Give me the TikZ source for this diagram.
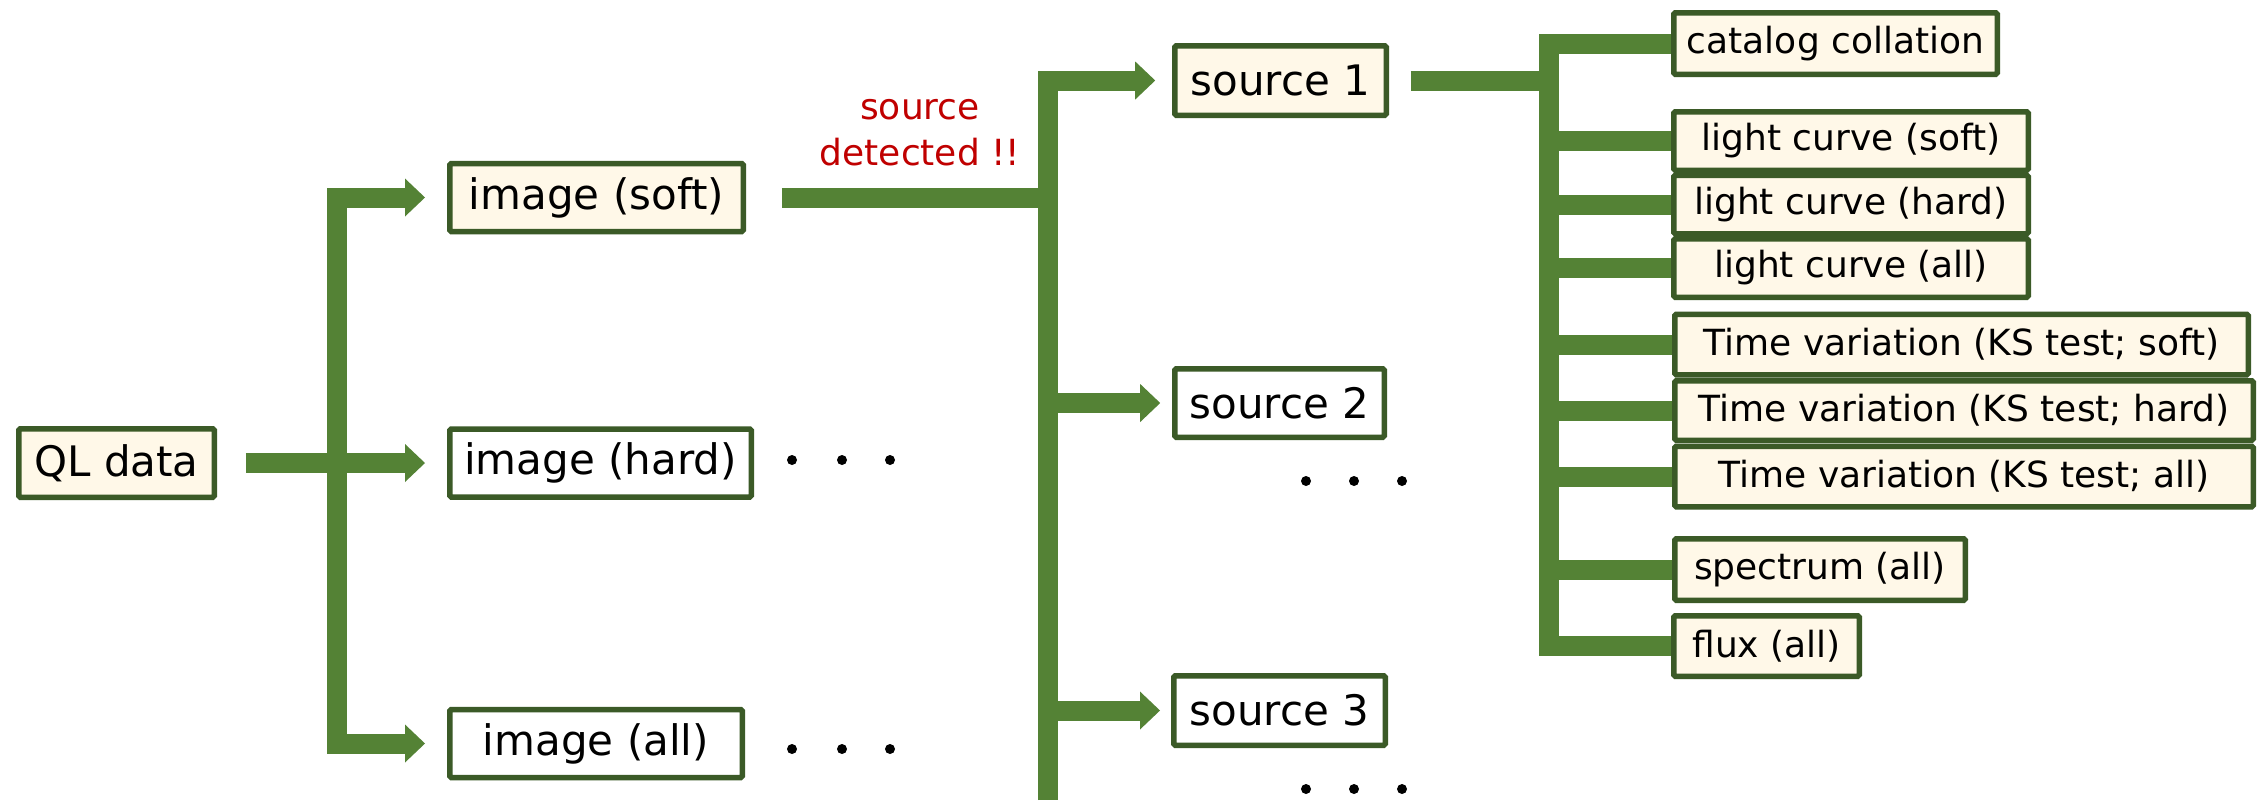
\documentclass[tikz,border=0pt]{standalone}
\usepackage{fontspec}
\setmainfont{DejaVu Sans}
\usetikzlibrary{arrows.meta,backgrounds}
\definecolor{bargreen}{HTML}{548235}
\definecolor{edgegreen}{HTML}{3B5A27}
\definecolor{cream}{HTML}{FFF8E8}
\definecolor{alertred}{HTML}{C00000}
\begin{document}
\begin{tikzpicture}[x=0.5pt,y=-0.5pt,
  >={Triangle[length=10pt,width=19pt,line width=0pt]},
  framebox/.style={draw=edgegreen, line width=2.75pt, inner sep=0pt, rounded corners=0.8pt, text=black},
  bigbox/.style={framebox, minimum height=34pt, font=\fontsize{21}{25}\selectfont},
  smallbox/.style={framebox, fill=cream, font=\fontsize{18}{22}\selectfont},
  flowbar/.style={draw=bargreen, line width=10pt, line join=miter},
  ellipsisdot/.style={fill=black}
]
\useasboundingbox (0,0) rectangle (2259,800);

% trunk positions
\coordinate (t1) at (337,0);
\coordinate (t2) at (1048,0);
\coordinate (t3) at (1549,0);
\coordinate (t2end) at (1048,800);

% first stage
\node[bigbox, fill=cream, minimum width=97.75pt, minimum height=34.25pt] (ql) at (116.5,463) {QL data};
\node[bigbox, fill=cream, minimum width=146.75pt] (imsoft) at (596.5,197.5) {image (soft)};
\node[bigbox, fill=white, minimum width=150.75pt] (imhard) at (600.5,463) {image (hard)};
\node[bigbox, fill=white, minimum width=146.25pt] (imall) at (596,743.5) {image (all)};

% second stage
\node[text=alertred, align=center, font=\fontsize{18}{23}\selectfont] (detected) at (920,133) {source\\detected !!};
\node[bigbox, fill=cream, minimum width=105.75pt, minimum height=34.75pt] (src1) at (1280.5,80.5) {source 1};
\node[bigbox, fill=white, minimum width=104.75pt, minimum height=34.25pt] (src2) at (1279.5,403) {source 2};
\node[bigbox, fill=white, minimum width=105.75pt, minimum height=34.75pt] (src3) at (1279.5,710.5) {source 3};

% products per source
\node[smallbox, minimum width=161.75pt, minimum height=30.75pt] (catalog) at (1835.5,43.5) {catalog collation};
\node[smallbox, minimum width=177.25pt, minimum height=29.25pt] (lcsoft) at (1851,141) {light curve (soft)};
\node[smallbox, minimum width=177.25pt, minimum height=29.25pt] (lchard) at (1851,204.5) {light curve (hard)};
\node[smallbox, minimum width=177.25pt, minimum height=29.25pt] (lcall) at (1851,268) {light curve (all)};
\node[smallbox, minimum width=286.75pt, minimum height=30.25pt] (tvsoft) at (1961.5,344.5) {Time variation (KS test; soft)};
\node[smallbox, minimum width=289.25pt, minimum height=29.75pt] (tvhard) at (1964,410.5) {Time variation (KS test; hard)};
\node[smallbox, minimum width=289.25pt, minimum height=30.25pt] (tvall) at (1964,476.5) {Time variation (KS test; all)};
\node[smallbox, minimum width=145.25pt, minimum height=30.75pt] (spectrum) at (1820,569.5) {spectrum (all)};
\node[smallbox, minimum width=92.75pt, minimum height=30.25pt] (flux) at (1766.5,646) {flux (all)};

% ellipsis dots
\foreach \x in {792,842,890} {
  \fill[ellipsisdot] (\x,460) circle[radius=2.5pt];
  \fill[ellipsisdot] (\x,749) circle[radius=2.5pt];
}
\foreach \x in {1306,1354,1402} {
  \fill[ellipsisdot] (\x,481) circle[radius=2.5pt];
  \fill[ellipsisdot] (\x,789) circle[radius=2.5pt];
}

\begin{scope}[on background layer]
  \fill[white] (0,0) rectangle (2259,800);
  % QL data -> images
  \draw[flowbar, <->, shorten <=11pt, shorten >=11pt] (imsoft.west) -| (t1 |- imall.west) -- (imall.west);
  \draw[flowbar, ->, shorten <=14.4pt, shorten >=11pt] (ql.east) -- (imhard.west);
  % image (soft) -> sources
  \draw[flowbar, shorten <=17.9pt] (imsoft.east) -- (t2 |- imsoft.east);
  \draw[flowbar, ->, shorten >=8.4pt] (t2end) |- (src1.west);
  \draw[flowbar, ->, shorten >=5.9pt] (t2 |- src2.west) -- (src2.west);
  \draw[flowbar, ->, shorten >=5.5pt] (t2 |- src3.west) -- (src3.west);
  % source 1 -> products
  \draw[flowbar, shorten <=10.9pt] (src1.east) -- (t3 |- src1.east);
  \draw[flowbar] (catalog.west) -| (t3 |- flux.west) -- (flux.west);
  \foreach \n in {lcsoft,lchard,lcall,tvsoft,tvhard,tvall,spectrum}
    \draw[flowbar] (t3 |- \n.west) -- (\n.west);
\end{scope}
\end{tikzpicture}
\end{document}
